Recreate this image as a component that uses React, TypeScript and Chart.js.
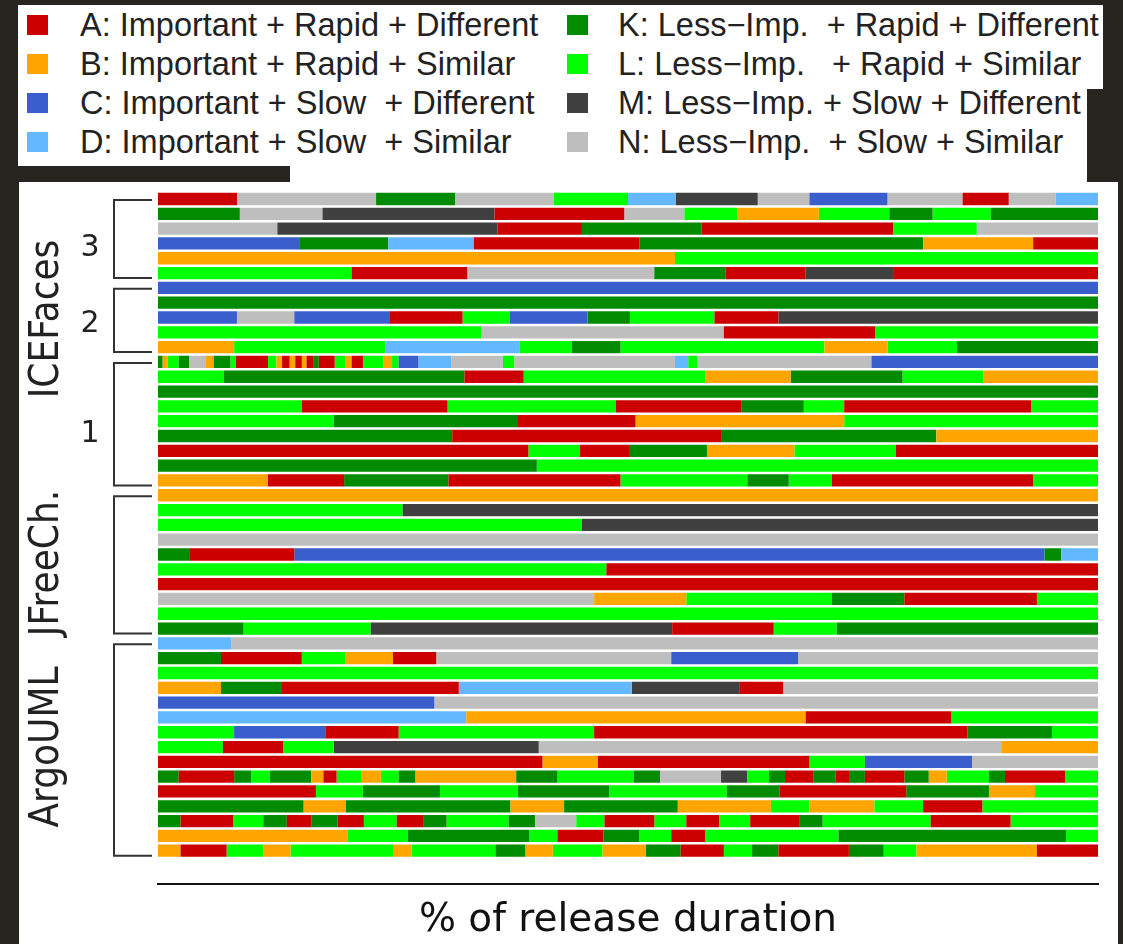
import React, { useEffect, useRef } from "react";
import { Chart, registerables } from "chart.js";

Chart.register(...registerables);

// ---- Categories (legend) ----
const CODES = ["A", "B", "C", "D", "K", "L", "M", "N"];
const NAMES = [
  "A: Important + Rapid + Different",
  "B: Important + Rapid + Similar",
  "C: Important + Slow  + Different",
  "D: Important + Slow  + Similar",
  "K: Less\u2212Imp.  + Rapid + Different",
  "L: Less\u2212Imp.   + Rapid + Similar",
  "M: Less\u2212Imp. + Slow + Different",
  "N: Less\u2212Imp.  + Slow + Similar",
];
const COLORS = ["#CD0000", "#FFA500", "#3A5FCD", "#63B8FF", "#008B00", "#00FF00", "#404040", "#BEBEBE"];

// ---- Rows: each token = category code + start (% of release duration); a segment ends where the next starts (last ends at 100) ----
const ICEFACES_3 = [
  "A0 N8.4 K23.2 N31.6 L42.1 D50.0 M55.1 N63.8 C69.3 N77.6 A85.6 N90.5 D95.5",
  "K0 N8.7 M17.5 A35.8 N49.6 L56.0 B61.6 L70.3 K77.8 L82.4 K88.6",
  "N0 M12.7 A36.1 K45.1 A57.8 L78.2 N87.1",
  "C0 K15.1 D24.5 A33.6 K51.2 B81.4 A93.1",
  "B0 L55.0",
  "L0 A20.6 N32.9 K52.8 A60.4 M68.9 A78.2",
];
const ICEFACES_2 = [
  "C0",
  "K0",
  "C0 N8.4 C14.5 A24.6 L32.4 C37.4 K45.7 L50.2 A59.2 M66.0",
  "L0 N34.4 A60.2 L76.3",
  "B0 L8.1 D24.2 L38.5 K44.0 L49.2 B70.9 L77.6 K85.0",
];
const ICEFACES_1 = [
  "K0 B0.5 L1.0 K2.2 N3.3 B5.1 K5.9 L7.7 A8.3 L11.7 B12.6 A13.2 B14.0 A14.6 B15.3 A15.8 K16.5 A17.1 L18.8 B19.9 A20.6 L21.8 B24.0 L24.9 C25.6 D27.7 N31.2 L36.7 N37.9 D55.0 L56.4 N57.4 C75.9",
  "L0 K7.0 A32.6 L38.9 B58.2 K67.3 L79.2 B87.8",
  "K0",
  "L0 A15.3 L30.8 A48.7 K62.1 L68.7 A73.0 L92.9",
  "L0 K18.7 A38.3 B50.8 L73.0",
  "K0 A31.3 K59.9 B82.8",
  "A0 L39.4 A44.9 K50.2 B58.4 L67.7 A78.5",
  "K0 L40.3",
  "B0 A11.7 K19.8 A30.9 L49.2 K62.7 L67.1 A71.7 L93.1",
];
const JFREECHART = [
  "B0",
  "L0 M26.0",
  "L0 M45.1",
  "N0",
  "K0 A3.4 C14.5 K94.3 D96.1",
  "L0 A47.7",
  "A0",
  "N0 B46.4 L56.2 K71.7 A79.4 L93.5",
  "L0",
  "K0 L9.1 M22.6 A54.7 L65.5 K72.2",
];
const ARGOUML = [
  "D0 N7.8",
  "K0 A6.7 L15.3 B19.9 A25.0 N29.6 C54.6 N68.1",
  "L0",
  "B0 K6.7 A13.1 D32.0 M50.4 A61.9 N66.5",
  "C0 N29.4",
  "D0 B32.8 A68.9 L84.4",
  "L0 C8.1 A17.8 L25.6 A46.4 K86.1 L95.1",
  "L0 A6.9 L13.3 M18.7 N40.5 B89.7",
  "A0 B40.9 A46.8 L69.3 C75.2 N86.6",
  "K0 A2.2 K8.1 L9.9 K11.9 B16.3 A17.6 L19.0 B21.6 L23.7 K25.6 B27.4 K38.1 L42.5 K50.6 N53.4 M59.9 L62.7 K65.0 A66.7 K69.7 A72.1 K73.6 A75.2 K79.4 B82.0 L83.9 K88.4 A90.1 L96.5",
  "A0 L16.8 K21.8 L30.0 K38.3 L48.0 K60.5 A66.1 K79.6 B88.4 L93.3",
  "K0 B15.5 K20.0 B37.5 K43.2 B55.3 L65.2 B69.3 L76.2 A81.4 L87.7",
  "K0 A2.4 L8.0 K11.2 A13.7 K16.3 A19.1 L21.9 A25.4 K28.2 L30.7 K37.3 N40.1 L44.5 A47.5 L52.8 A56.2 L59.7 A63.0 K68.2 L70.7 A82.2 L90.7",
  "B0 L20.2 K26.6 L39.5 A42.5 K47.4 L51.2 A54.6 L58.2 K72.4 L96.6",
  "B0 A2.4 L7.3 B11.2 L14.1 B25.0 L27.0 K35.9 B39.1 L42.0 B47.3 K51.9 A55.6 L60.2 K63.2 A66.0 K73.5 L77.2 B80.7 A93.5",
];
const GROUPS = [ICEFACES_3, ICEFACES_2, ICEFACES_1, JFREECHART, ARGOUML];
const AXIS_TITLE = "% of release duration";

type Seg = { code: string; start: number; end: number };
function parseRow(s: string): Seg[] {
  const parts = s.trim().split(/\s+/);
  return parts.map((p, i) => ({
    code: p[0],
    start: parseFloat(p.slice(1)),
    end: i + 1 < parts.length ? parseFloat(parts[i + 1].slice(1)) : 100,
  }));
}

const ALL_ROWS: string[] = GROUPS.reduce((acc: string[], g) => acc.concat(g), []);

const bracketPlugin = {
  id: "brackets",
  afterDraw(chart: any) {
    const ys = chart.scales.y;
    const ctx = chart.ctx;
    ctx.save();
    ctx.strokeStyle = "#333";
    ctx.lineWidth = 2;
    let first = 0;
    GROUPS.forEach((g) => {
      const last = first + g.length - 1;
      const top = ys.getPixelForValue(first) + 1;
      const bot = ys.getPixelForValue(last) + 5;
      ctx.beginPath();
      ctx.moveTo(152, top);
      ctx.lineTo(114, top);
      ctx.lineTo(114, bot);
      ctx.lineTo(152, bot);
      ctx.stroke();
      first = last + 1;
    });
    ctx.restore();
  },
};

export default function App() {
  const ref = useRef<HTMLCanvasElement | null>(null);
  useEffect(() => {
    if (!ref.current) return;
    const parsed = ALL_ROWS.map(parseRow);
    const datasets = CODES.map((code, ci) => {
      const data: any[] = [];
      parsed.forEach((segs, r) => {
        segs.forEach((s) => {
          if (s.code === code) data.push({ y: r, x: [s.start, s.end] });
        });
      });
      return {
        label: NAMES[ci],
        data,
        backgroundColor: COLORS[ci],
        borderWidth: 0,
        grouped: false,
        barPercentage: 0.83,
        categoryPercentage: 1,
      };
    });
    const chart = new Chart(ref.current, {
      type: "bar",
      data: { datasets } as any,
      options: {
        indexAxis: "y",
        animation: false,
        responsive: false,
        maintainAspectRatio: false,
        events: [],
        layout: { padding: { left: 158, right: 25, top: 191, bottom: 0 } },
        plugins: { legend: { display: false }, tooltip: { enabled: false } },
        scales: {
          y: { type: "linear", min: -0.54, max: 46.26, reverse: true, offset: false, display: false, grid: { offset: false } },
          x: {
            type: "linear",
            min: 0,
            max: 100,
            grid: { display: false, drawTicks: false },
            ticks: { display: false },
            border: { display: true, color: "#111", width: 2 },
            title: {
              display: true,
              text: AXIS_TITLE,
              color: "#111",
              font: { family: "DejaVu Sans", size: 39 },
              padding: { top: 13, bottom: 0 },
            },
          },
        },
      } as any,
      plugins: [bracketPlugin],
    });
    return () => chart.destroy();
  }, []);

  const legendRowY = [25, 64, 103, 142];
  const white = "#ffffff";
  return (
    <div style={{ position: "fixed", left: 0, top: 0, width: 1123, height: 944, background: "#26251f", overflow: "hidden" }}>
      <div style={{ position: "absolute", left: 19, top: 182, width: 1099, height: 762, background: white }} />
      <div style={{ position: "absolute", left: 18, top: 5, width: 527, height: 161, background: white }} />
      <div style={{ position: "absolute", left: 545, top: 5, width: 558, height: 84, background: white }} />
      <div style={{ position: "absolute", left: 545, top: 89, width: 542, height: 94, background: white }} />
      <div style={{ position: "absolute", left: 290, top: 160, width: 260, height: 25, background: white }} />
      {NAMES.map((n, i) => {
        const col = i < 4 ? 0 : 1;
        const row = i % 4;
        const sqX = col === 0 ? 27 : 567;
        const txX = col === 0 ? 80 : 618;
        const cy = legendRowY[row];
        return (
          <React.Fragment key={n}>
            <div style={{ position: "absolute", left: sqX, top: cy - 10, width: 21, height: 20, background: COLORS[i] }} />
            <div
              style={{
                position: "absolute",
                left: txX,
                top: cy - 20,
                height: 40,
                lineHeight: "40px",
                fontFamily: "'Liberation Sans', Arial, sans-serif",
                fontSize: 32.5,
                color: "#222",
                whiteSpace: "pre",
              }}
            >
              {n}
            </div>
          </React.Fragment>
        );
      })}
      <canvas ref={ref} width={1123} height={944} style={{ position: "absolute", left: 0, top: 0, width: 1123, height: 944 }} />
      {[
        { t: "ICEFaces", x: 44, y: 319 },
        { t: "JFreeCh.", x: 44, y: 563 },
        { t: "ArgoUML", x: 44, y: 747 },
      ].map((l) => (
        <div
          key={l.t}
          style={{
            position: "absolute",
            left: l.x,
            top: l.y,
            transform: "translate(-50%, -50%) rotate(-90deg) scaleX(0.9)",
            fontFamily: "'DejaVu Sans', sans-serif",
            fontSize: 40,
            lineHeight: "40px",
            color: "#222",
            whiteSpace: "nowrap",
          }}
        >
          {l.t}
        </div>
      ))}
      {[
        { t: "3", y: 246 },
        { t: "2", y: 322 },
        { t: "1", y: 432 },
      ].map((l) => (
        <div
          key={l.t}
          style={{
            position: "absolute",
            left: 90,
            top: l.y,
            transform: "translate(-50%, -50%)",
            fontFamily: "'DejaVu Sans', sans-serif",
            fontSize: 30,
            lineHeight: "30px",
            color: "#222",
          }}
        >
          {l.t}
        </div>
      ))}
    </div>
  );
}
